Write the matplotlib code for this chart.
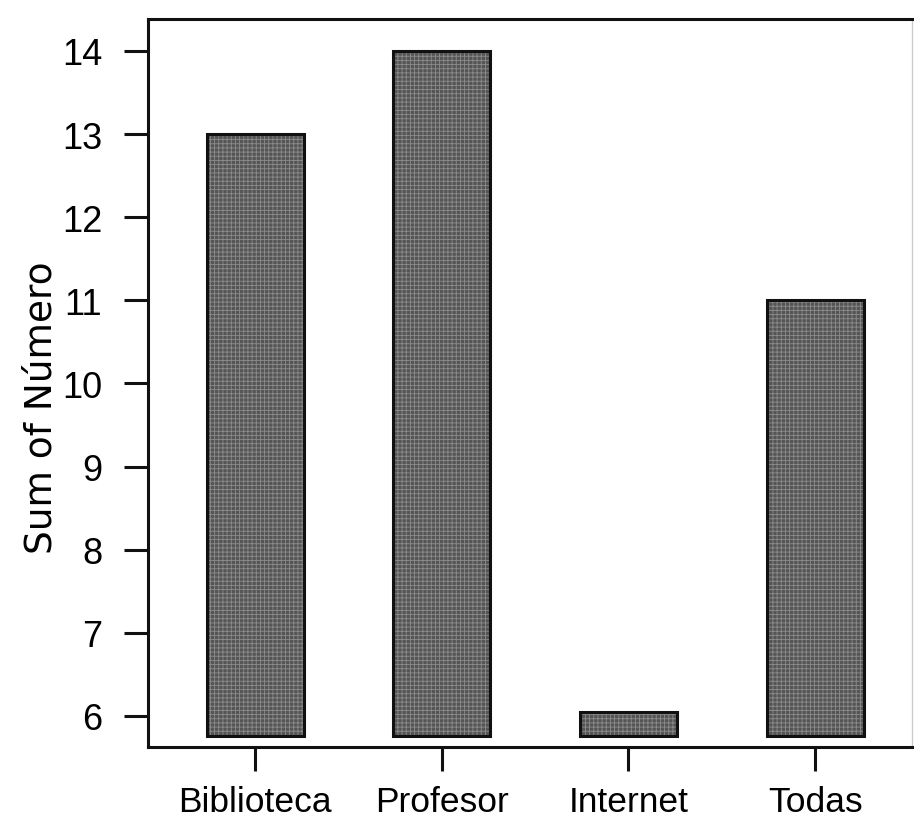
import numpy as np
import matplotlib
matplotlib.use("Agg")
from matplotlib import pyplot as plt

plt.rcParams['font.family'] = ['Liberation Sans', 'DejaVu Sans']
plt.rcParams['hatch.linewidth'] = 0.6

# data
categories = ["Biblioteca", "Profesor", "Internet", "Todas"]
values = [13.0, 14.0, 6.05, 11.0]
base = 5.76

fig = plt.figure(figsize=(9.14, 8.29), dpi=100)
ax = fig.add_axes([0.162, 0.0977, 0.836, 0.8783])

x = np.arange(len(categories))
heights = np.array(values) - base

# grey textured fill, then outline on top
ax.bar(x, heights, bottom=base, width=0.52, color="#555555", linewidth=0)
ax.bar(x, heights, bottom=base, width=0.52, fill=False, hatch="++++",
       edgecolor="#8c8c8c", linewidth=0)
ax.bar(x, heights, bottom=base, width=0.52, fill=False,
       edgecolor="#111111", linewidth=2.2)

ax.set_xlim(-0.573, 3.52)
ax.set_ylim(5.627, 14.385)
ax.set_yticks(range(6, 15))
ax.set_xticks(x)
ax.set_xticklabels(categories, fontsize=25.5)
ax.set_ylabel("Sum of Número", fontsize=27, family=['DejaVu Sans'],
              va="center", ha="center")
ax.yaxis.set_label_coords(-0.139, 0.467)

ax.tick_params(axis="both", direction="out", length=17, width=2.2,
               color="#111111")
ax.tick_params(axis="y", pad=16, labelsize=26)
ax.tick_params(axis="x", pad=10)

for s in ax.spines.values():
    s.set_linewidth(2.2)
    s.set_color("#111111")
ax.spines["right"].set_color("#cccccc")
ax.spines["right"].set_linewidth(1)

fig.savefig("out.png", dpi=100)
